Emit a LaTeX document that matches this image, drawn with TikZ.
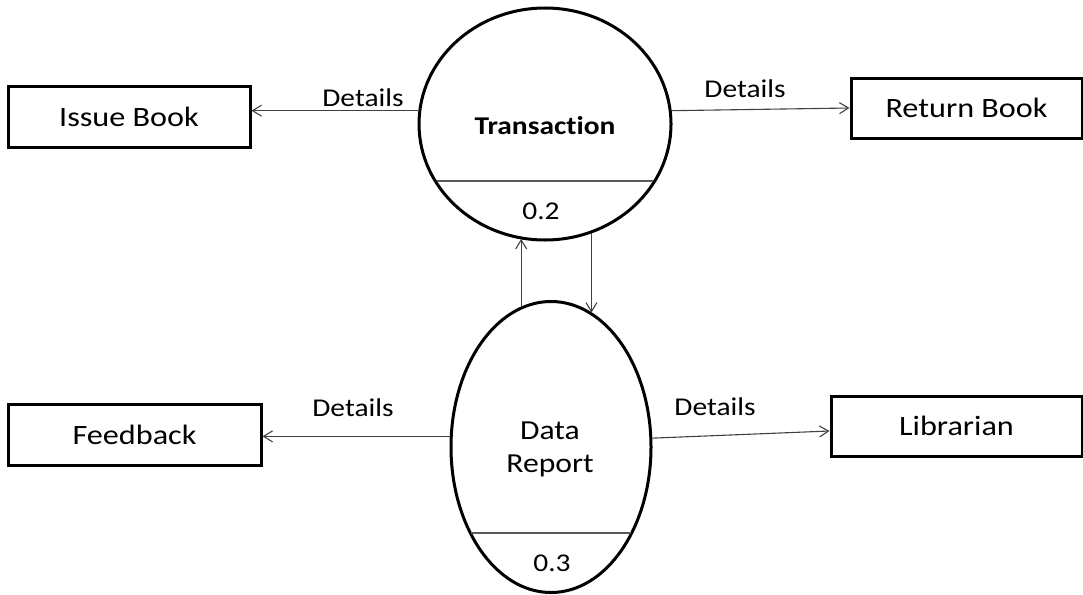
\documentclass[tikz,border=0pt]{standalone}
\usepackage{fontspec}
\setmainfont{Carlito}[FakeStretch=1.15, Ligatures=NoCommon]
\usetikzlibrary{shapes.geometric,arrows.meta,calc}
\tikzset{
  box/.style={draw=black, line width=3pt, rectangle, inner sep=0pt, font=\fontsize{28}{30}\selectfont},
  proc/.style={draw=black, line width=3pt, ellipse, inner sep=0pt},
  flow/.style={draw=black!75, line width=1.1pt, -{Straight Barb[length=9pt,width=11pt]}},
  divider/.style={draw=black!65, line width=1.4pt},
  lbl/.style={inner sep=0pt, font=\fontsize{25.6}{28}\selectfont},
}
\begin{document}
\begin{tikzpicture}[x=1pt,y=-1pt]
\useasboundingbox (0,0) rectangle (1083,594);
% processes
\node[proc, minimum width=252pt, minimum height=232pt] (tr) at (545,124) {};
\node[proc, minimum width=200pt, minimum height=291pt] (dr) at (551,447) {};
\node[lbl, font=\fontsize{25.6}{28}\selectfont\bfseries] (trt) at (545,126) {Transaction};
\node[lbl] (trn) at (541,211) {0.2};
\draw[divider] (437,181) -- (653,181);
\node[lbl, align=center, font=\fontsize{27.5}{33}\selectfont] (drt) at (550,449) {Data\\Report};
\node[lbl] (drn) at (552,563) {0.3};
\draw[divider] (471,533) -- (631,533);
% external entities
\node[box, minimum width=242pt, minimum height=61pt] (ib) at (129,116.5) {Issue Book};
\node[box, minimum width=231pt, minimum height=60pt] (rb) at (966.5,108) {Return Book};
\node[box, minimum width=253pt, minimum height=61pt] (fb) at (134.5,434.5) {Feedback};
\node[box, minimum width=251pt, minimum height=60pt] (lb) at (956.5,426) {Librarian};
% flows
\draw[flow] (tr.174) -- (tr.174 -| ib.east);
\draw[flow] (tr.6) -- (rb.west);
\draw[flow] (dr.102.6) -- (dr.102.6 |- tr.257.6);
\draw[flow] (tr.293.1) -- (tr.293.1 |- dr.73.3);
\draw[flow] (dr.174) -- (dr.174 -| fb.east);
\draw[flow] (dr.5) -- ($(lb.west)+(0,5)$);
% labels
\node[lbl] (d1) at (363,98) {Details};
\node[lbl] (d2) at (745,89) {Details};
\node[lbl] (d3) at (353,408) {Details};
\node[lbl] (d4) at (715,407) {Details};
\end{tikzpicture}
\end{document}
